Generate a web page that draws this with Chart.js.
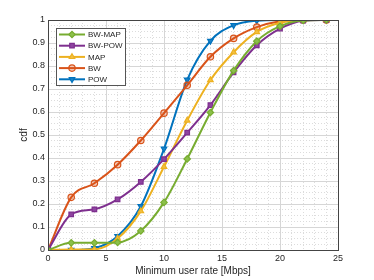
<!DOCTYPE html>
<html>
<head>
<meta charset="UTF-8">
<script src="https://cdn.jsdelivr.net/npm/chart.js"></script>
<style>
  html, body { margin: 0; padding: 0; background: #fff; }
  .wrap { width: 374px; height: 280px; position: relative; }
</style>
</head>
<body>
<div class="wrap"><canvas id="cdfChart"></canvas></div>
<script>
// data
const rates = [0, 2, 4, 6, 8, 10, 12, 14, 16, 18, 20, 22, 24];
const bwMap = [0, 0.031, 0.031, 0.033, 0.083, 0.207, 0.396, 0.598, 0.78, 0.908, 0.973, 0.998, 1];
const bwPow = [0, 0.155, 0.177, 0.22, 0.296, 0.395, 0.51, 0.63, 0.772, 0.89, 0.962, 0.997, 1];
const mapVals = [0, 0.002, 0.003, 0.05, 0.169, 0.362, 0.563, 0.739, 0.86, 0.948, 0.988, 1, 1];
const bwVals = [0, 0.229, 0.29, 0.371, 0.476, 0.595, 0.716, 0.84, 0.92, 0.969, 0.995, 1, 1];
const powVals = [0, 0, 0.008, 0.06, 0.19, 0.44, 0.74, 0.909, 0.977, 0.997, 1, 1, 1];

const FONT = 'Liberation Sans, Arial, Helvetica, sans-serif';

function series(label, values, color, style, fill, rot) {
    return {
        label: label,
        data: rates.map((x, i) => ({x: x, y: values[i]})),
        borderColor: color,
        backgroundColor: fill,
        borderWidth: 2,
        pointStyle: style,
        pointRotation: rot || 0,
        pointRadius: 3.2,
        pointBorderWidth: 1.2,
        pointBorderColor: color,
        pointBackgroundColor: fill,
        cubicInterpolationMode: 'monotone',
        fill: false
    };
}

const datasets = [
    series('BW-MAP', bwMap, '#77AC30', 'rectRot', '#8cc04a'),
    series('BW-POW', bwPow, '#7E2F8E', 'rect', '#8e44a0'),
    series('MAP', mapVals, '#EDB120', 'triangle', '#f2c040'),
    series('BW', bwVals, '#D95319', 'circle', 'rgba(217,83,25,0.3)'),
    series('POW', powVals, '#0072BD', 'triangle', '#1a82c8', 180)
];

// box around the axes + legend inside the plot (MATLAB style)
const boxAndLegend = {
    id: 'boxAndLegend',
    afterDatasetsDraw(chart) {
        const ctx = chart.ctx;
        const a = chart.chartArea;
        ctx.save();
        ctx.strokeStyle = '#444';
        ctx.lineWidth = 1;
        ctx.strokeRect(Math.round(a.left) + 0.5, Math.round(a.top) + 0.5,
            Math.round(a.right - a.left), Math.round(a.bottom - a.top));

        // legend
        const lx = 56, ly = 28, lw = 69, lh = 57;
        ctx.fillStyle = '#fff';
        ctx.fillRect(lx, ly, lw, lh);
        ctx.strokeStyle = '#555';
        ctx.strokeRect(lx + 0.5, ly + 0.5, lw, lh);
        ctx.font = '8px ' + FONT;
        ctx.textBaseline = 'middle';
        chart.data.datasets.forEach((ds, i) => {
            const y = ly + 6.5 + i * 11.2;
            ctx.strokeStyle = ds.borderColor;
            ctx.lineWidth = 2;
            ctx.beginPath();
            ctx.moveTo(59, y);
            ctx.lineTo(85, y);
            ctx.stroke();
            ctx.fillStyle = ds.pointBackgroundColor;
            ctx.strokeStyle = ds.borderColor;
            ctx.lineWidth = 1.2;
            Chart.helpers.drawPoint(ctx, {
                pointStyle: ds.pointStyle,
                rotation: ds.pointRotation,
                radius: 3.2,
                borderWidth: 1.2
            }, 72, y);
            ctx.fillStyle = '#262626';
            ctx.fillText(ds.label, 88, y + 0.5);
        });
        ctx.restore();
    }
};

const minorGrid = {
    color: '#dcdcdc',
    lineWidth: 1,
    drawTicks: false
};

new Chart(document.getElementById('cdfChart'), {
    type: 'line',
    data: { datasets: datasets },
    plugins: [boxAndLegend],
    options: {
        responsive: true,
        maintainAspectRatio: false,
        animation: false,
        layout: { padding: { top: 20, right: 36, left: 0, bottom: 0 } },
        plugins: {
            legend: { display: false },
            tooltip: { enabled: false }
        },
        scales: {
            xm: {
                type: 'linear', position: 'bottom', min: 0, max: 25,
                ticks: { display: false, stepSize: 1 },
                grid: minorGrid,
                border: { display: false, dash: [1, 2] },
                afterFit: s => { s.height = 0; }
            },
            ym: {
                type: 'linear', position: 'left', min: 0, max: 1,
                ticks: { display: false, stepSize: 0.025 },
                grid: minorGrid,
                border: { display: false, dash: [1, 2] },
                afterFit: s => { s.width = 0; }
            },
            x: {
                type: 'linear', position: 'bottom', min: 0, max: 25,
                ticks: { stepSize: 5, padding: 3, color: '#262626', font: { family: FONT, size: 9 } },
                grid: { color: '#d6d6d6', drawTicks: false },
                border: { display: false },
                title: {
                    display: true, text: 'Minimum user rate [Mbps]', color: '#262626',
                    font: { family: FONT, size: 10 }, padding: { top: 0, bottom: 3 }
                },
                afterFit: s => { s.height = 30; }
            },
            y: {
                type: 'linear', position: 'left', min: 0, max: 1,
                ticks: {
                    stepSize: 0.1, padding: 3, color: '#262626',
                    font: { family: FONT, size: 9 },
                    callback: v => String(+v.toFixed(1))
                },
                grid: { color: '#d6d6d6', drawTicks: false },
                border: { display: false },
                title: {
                    display: true, text: 'cdf', color: '#262626',
                    font: { family: FONT, size: 10 }, padding: { top: 18, bottom: 0 }
                },
                afterFit: s => { s.width = 48; }
            }
        }
    }
});
</script>
</body>
</html>
